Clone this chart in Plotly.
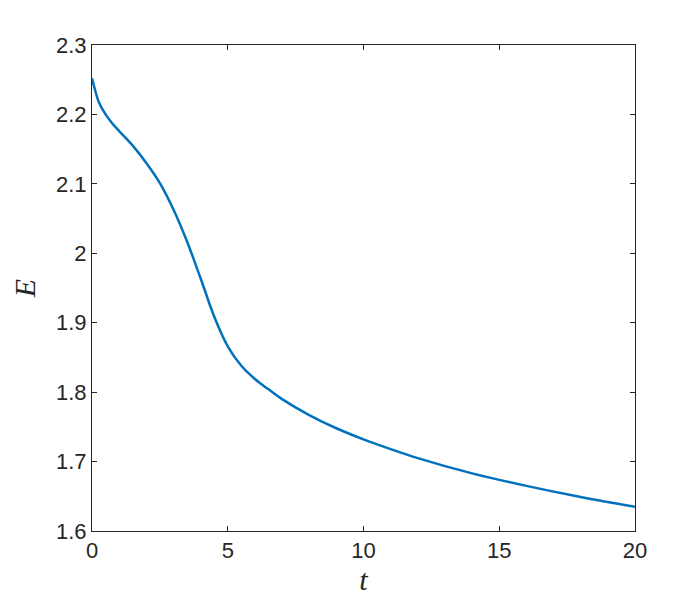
import plotly.graph_objects as go

# curve
t_vals = [0, 0.1, 0.25, 0.5, 0.75, 1, 1.5, 2, 2.5, 3, 3.5, 4, 4.5, 5, 5.5, 6,
          6.5, 7, 8, 9, 10, 11, 12, 14, 16, 18, 20]
e_vals = [2.252, 2.237, 2.218, 2.200, 2.187, 2.176, 2.155, 2.130, 2.101, 2.063,
          2.017, 1.964, 1.909, 1.866, 1.838, 1.819, 1.804, 1.790, 1.767, 1.748,
          1.732, 1.718, 1.705, 1.683, 1.665, 1.649, 1.635]

x_ticks = [0, 5, 10, 15, 20]
y_ticks = [1.6, 1.7, 1.8, 1.9, 2.0, 2.1, 2.2, 2.3]

fig = go.Figure()

fig.add_trace(go.Scatter(
    x=t_vals,
    y=e_vals,
    mode='lines',
    line=dict(color='#0072BD', width=2.5, shape='spline', smoothing=1),
    showlegend=False
))

axis_style = dict(
    showline=True,
    linecolor='#262626',
    linewidth=1,
    mirror='ticks',
    ticks='inside',
    ticklen=5,
    tickcolor='#262626',
    showgrid=False,
    zeroline=False,
    tickfont=dict(family='Liberation Sans, Arial', size=22, color='#262626'),
)

fig.update_xaxes(
    range=[0, 20],
    tickvals=x_ticks,
    title=dict(text='<i>t</i>', font=dict(family='Liberation Serif, DejaVu Serif', size=30, color='#262626'), standoff=6),
    **axis_style
)
fig.update_yaxes(
    range=[1.6, 2.3],
    tickvals=y_ticks,
    ticktext=[f'{v:g}' for v in y_ticks],
    title=dict(text='<i>E</i>', font=dict(family='Liberation Serif, DejaVu Serif', size=30, color='#262626'), standoff=12),
    **axis_style
)

fig.update_layout(
    width=700,
    height=600,
    margin=dict(l=84, r=73, t=37, b=77),
    plot_bgcolor='white',
    paper_bgcolor='white',
)

fig.write_html("out.html")
